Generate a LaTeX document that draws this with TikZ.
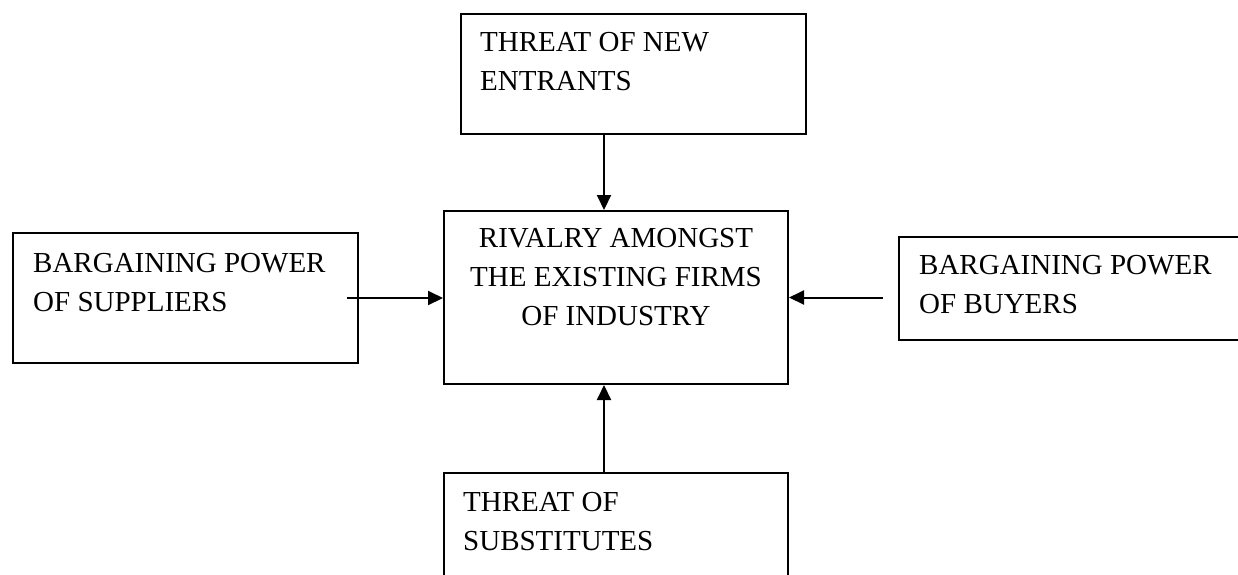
\documentclass[tikz,border=0pt]{standalone}
\usepackage{fontspec}
\setmainfont{Liberation Serif}
\usetikzlibrary{arrows.meta, positioning}

\begin{document}
\begin{tikzpicture}[x=1pt, y=-1pt,
		force/.style={draw, line width=2pt, inner sep=0pt, anchor=north west},
		forcetext/.style={inner sep=0pt, align=left, font=\fontsize{29}{39}\selectfont},
		push/.style={line width=2pt, -{Triangle[length=15pt, width=14pt]}}]
		\useasboundingbox (0,0) rectangle (1238,574);
		\clip (0,0) rectangle (1238,574);
		
		% the five forces
		\node[force, minimum width=345pt, minimum height=120pt] (entrants) at (460,13) {};
		\node[force, minimum width=345pt, minimum height=130pt] (suppliers) at (12,232) {};
		\node[force, minimum width=344pt, minimum height=173pt] (rivalry) at (443,210) {};
		\node[force, minimum width=350pt, minimum height=103pt] (buyers) at (898,236) {};
		\node[force, minimum width=344pt, minimum height=150pt] (substitutes) at (443,472) {};
		
		\node[forcetext, anchor=north west] (entrantstext) at ([xshift=20pt, yshift=-19pt]entrants.north west) {THREAT OF NEW\\ENTRANTS};
		\node[forcetext, anchor=north west] (supplierstext) at ([xshift=21pt, yshift=-21pt]suppliers.north west) {BARGAINING POWER\\OF SUPPLIERS};
		\node[forcetext, anchor=north, align=center] (rivalrytext) at ([yshift=-18pt]rivalry.north) {RIVALRY AMONGST\\THE EXISTING FIRMS\\OF INDUSTRY};
		\node[forcetext, anchor=north west] (buyerstext) at ([xshift=21pt, yshift=-19pt]buyers.north west) {BARGAINING POWER\\OF BUYERS};
		\node[forcetext, anchor=north west] (substitutestext) at ([xshift=20pt, yshift=-20pt]substitutes.north west) {THREAT OF\\SUBSTITUTES};
		
		% arrows into the middle
		\coordinate (topfoot) at ([xshift=-12pt]rivalry.north);
		\coordinate (bottomfoot) at ([xshift=-12pt]rivalry.south);
		\draw[push] (topfoot |- entrants.south) -- (topfoot);
		\draw[push] ([xshift=-12pt]suppliers.east) -- (suppliers.east -| rivalry.west);
		\draw[push] ([xshift=-15pt]buyers.west |- rivalry.east) -- (rivalry.east);
		\draw[push] (bottomfoot |- substitutes.north) -- (bottomfoot);
\end{tikzpicture}
\end{document}
